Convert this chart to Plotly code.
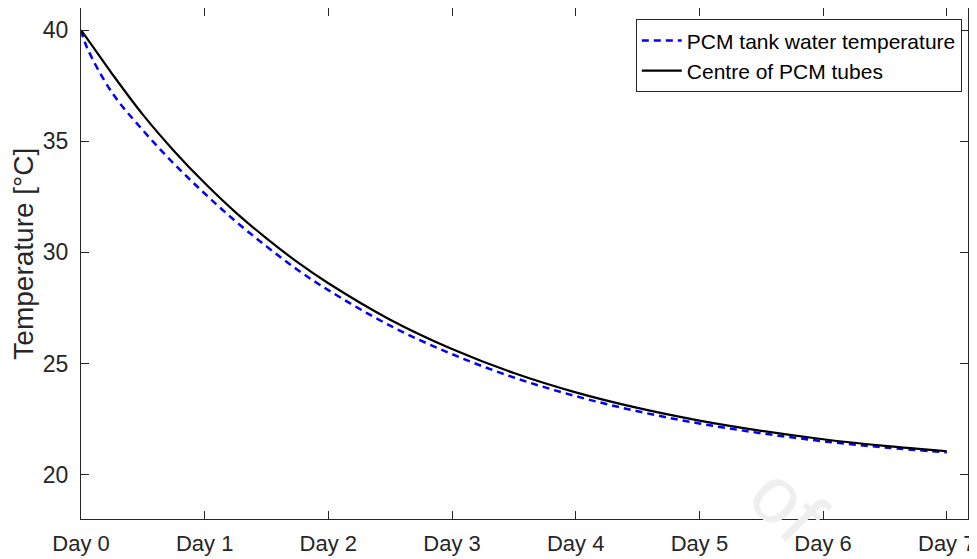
import plotly.graph_objects as go

# Time in days
days = [0, 0.05, 0.25, 0.5, 0.75, 1, 1.25, 1.5, 1.75, 2, 2.5, 3, 3.5, 4, 4.5, 5, 5.5, 6, 6.5, 7]
tank_water = [40.0, 39.2, 37.2, 35.5, 34.0, 32.65, 31.4, 30.27, 29.22, 28.30, 26.70, 25.42, 24.37,
              23.53, 22.85, 22.30, 21.86, 21.50, 21.22, 21.00]
tube_centre = [40.0, 39.62, 38.05, 36.2, 34.58, 33.12, 31.8, 30.63, 29.56, 28.61, 26.97, 25.65, 24.57,
               23.70, 23.00, 22.43, 21.97, 21.59, 21.29, 21.05]

tick_vals = [0, 1, 2, 3, 4, 5, 6, 7]
tick_text = ["Day 0", "Day 1", "Day 2", "Day 3", "Day 4", "Day 5", "Day 6", "Day 7"]
y_ticks = [20, 25, 30, 35, 40]

axis_col = "#262626"
font_family = "Liberation Sans, Arial, sans-serif"

fig = go.Figure()
fig.add_trace(go.Scatter(x=days, y=tank_water, mode="lines", name="PCM tank water temperature",
                         line=dict(color="#0000ff", width=2.5, dash="7px,5px", shape="spline")))
fig.add_trace(go.Scatter(x=days, y=tube_centre, mode="lines", name="Centre of PCM tubes",
                         line=dict(color="#000000", width=2.2, shape="spline")))

fig.update_layout(
    width=969, height=551,
    margin=dict(l=73, r=9, t=0, b=40, autoexpand=False),
    paper_bgcolor="white", plot_bgcolor="white",
    font=dict(family=font_family, color=axis_col, size=22),
    showlegend=True,
    legend=dict(x=0.993, y=0.978, xanchor="right", yanchor="top",
                bgcolor="white", bordercolor=axis_col, borderwidth=1,
                font=dict(size=21, color="black"), tracegroupgap=0,
                itemwidth=40),
)

fig.update_xaxes(range=[0, 7.172], tickvals=tick_vals, ticktext=tick_text,
                 ticks="inside", ticklen=8, tickcolor=axis_col, tickwidth=1,
                 showline=True, linecolor=axis_col, linewidth=1, mirror="ticks",
                 showgrid=False, zeroline=False, ticklabelstandoff=5, automargin=False,
                 tickfont=dict(size=22, color=axis_col))
fig.update_yaxes(range=[18, 41], tickvals=y_ticks,
                 ticks="inside", ticklen=8, tickcolor=axis_col, tickwidth=1,
                 showline=True, linecolor=axis_col, linewidth=1, mirror="ticks",
                 showgrid=False, zeroline=False, ticklabelstandoff=7, automargin=False,
                 tickfont=dict(size=23, color=axis_col))

# y-axis title placed as in the reference
fig.add_annotation(text="Temperature [°C]", xref="paper", yref="paper",
                   x=-0.065, y=0.52, xanchor="center", yanchor="middle",
                   showarrow=False, textangle=-90,
                   font=dict(size=28, color=axis_col, family=font_family))

# faint watermark fragment
fig.add_annotation(text="of", xref="paper", yref="paper", x=0.862, y=-0.085,
                   showarrow=False, textangle=45,
                   font=dict(size=80, color="#efefef", family=font_family))

fig.write_html("out.html")
